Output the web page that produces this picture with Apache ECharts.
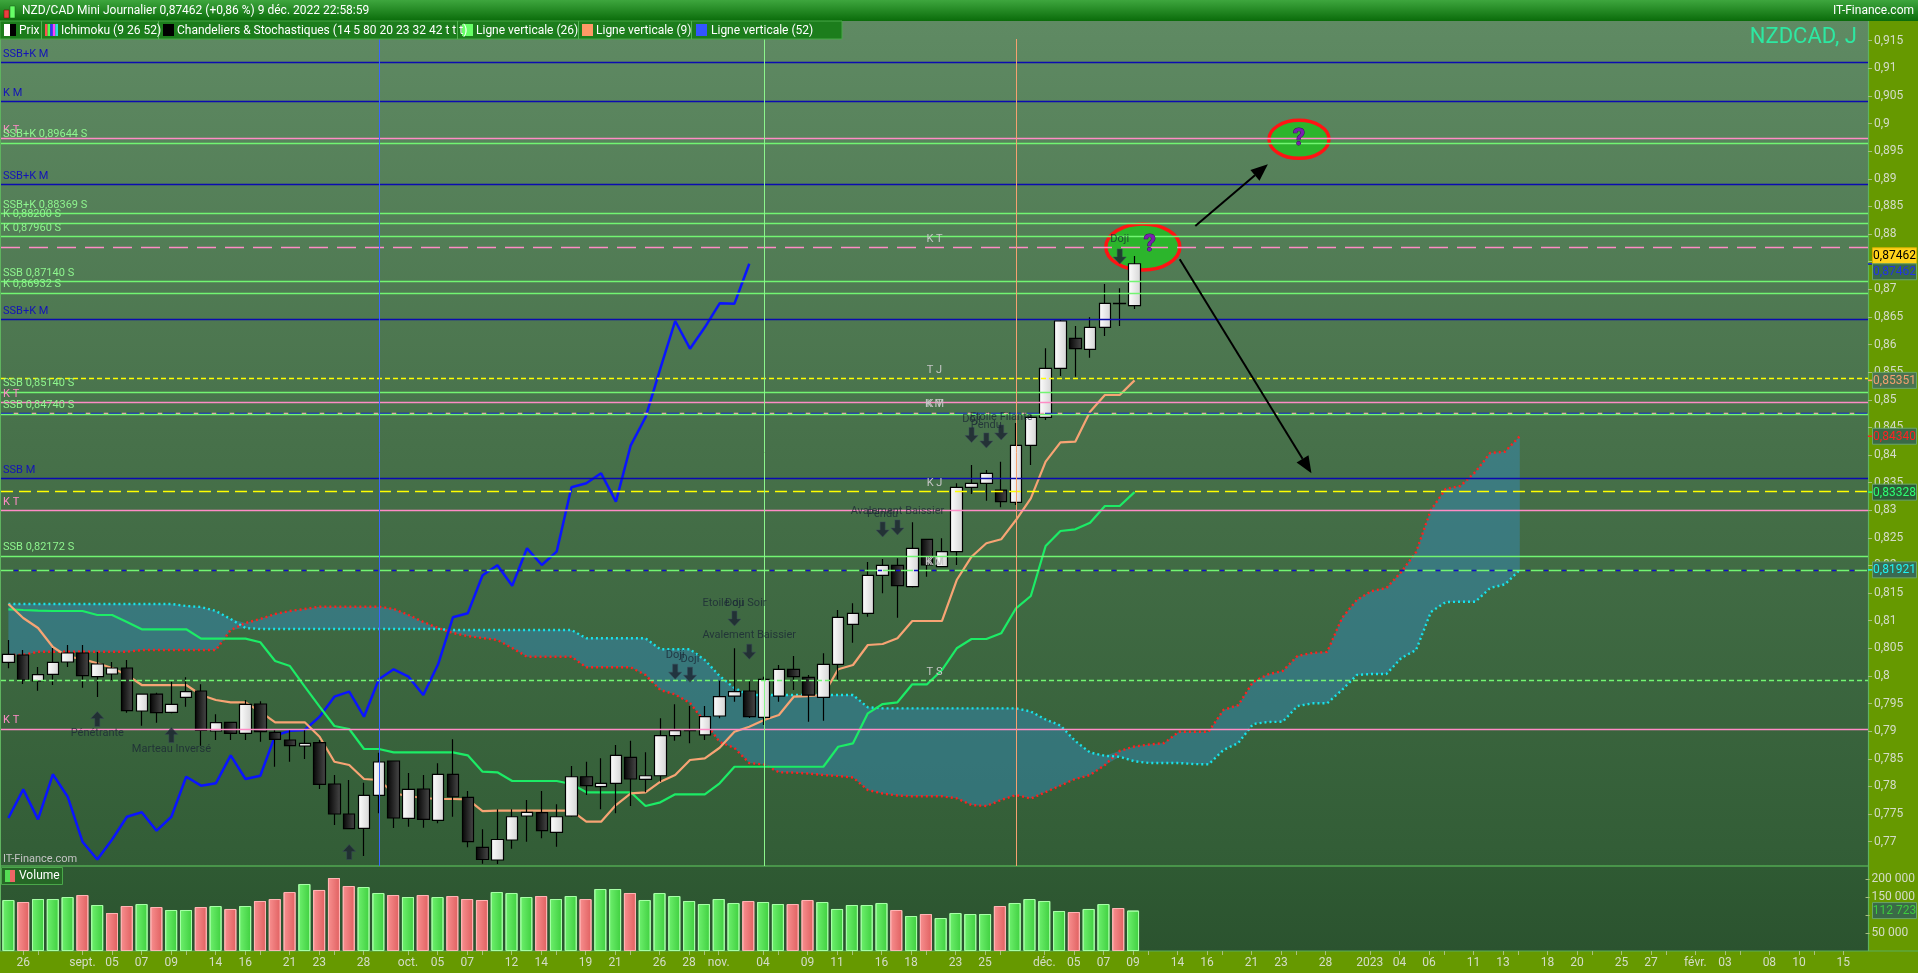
<!DOCTYPE html>
<html><head><meta charset="utf-8">
<script src="https://cdn.jsdelivr.net/npm/echarts@6/dist/echarts.min.js"></script>
<style>html,body{margin:0;padding:0;background:#669900;overflow:hidden}#c{width:1918px;height:973px}</style>
</head><body><div id="c"></div>
<script>
// ---------- DATA ----------
const openP = [.80247,.80380,.79909,.80030,.80253,.80416,.79987,.80036,.80144,.79366,
.79673,.79342,.79614,.79728,.79004,.79161,.78962,.79493,.78980,.78841,
.78732,.78792,.78044,.77501,.77242,.77840,.78461,.77423,.77954,.77387,
.78220,.77804,.76898,.76669,.77031,.77465,.77525,.77170,.77465,.78176,
.77996,.78057,.78528,.78129,.78194,.78919,.79009,.78932,.79275,.79637,
.79728,.79252,.79637,.80121,.79976,.79614,.80211,.80935,.81134,.81822,
.82003,.81616,.82474,.81978,.82250,.83415,.83488,.83366,.83144,.84176,
.84683,.85570,.86113,.85914,.86312,.86746,.86703];
const highP = [.80651,.80470,.80163,.80506,.80561,.80561,.80434,.80253,.80289,.79680,
.79697,.79897,.79976,.79849,.79306,.79170,.79565,.79541,.79022,.79022,
.79022,.78841,.78207,.78117,.78068,.78611,.78470,.78243,.78207,.78419,
.78853,.77918,.77224,.77586,.77586,.77755,.77918,.77677,.78370,.78448,
.78510,.78750,.78828,.78618,.79233,.79487,.79456,.79456,.79914,.80501,
.79927,.79987,.80199,.80361,.80018,.80410,.81194,.81315,.82063,.82117,
.82130,.82782,.82480,.82492,.83488,.83819,.83729,.83879,.84580,.84755,
.85932,.86444,.86335,.86493,.87096,.87018,.87603];
const lowP = [.80139,.79855,.79733,.79837,.80163,.79788,.79619,.79927,.79335,.79100,
.79154,.79324,.79444,.78738,.78841,.78841,.78841,.78810,.78358,.78448,
.78497,.77954,.77302,.77224,.76741,.77514,.77248,.77271,.77253,.77333,
.77452,.76898,.76600,.76596,.76873,.77000,.77061,.76909,.77452,.77845,
.77586,.77514,.77646,.77894,.78086,.78828,.78781,.78841,.79233,.79534,
.79239,.79112,.79534,.79746,.79172,.79190,.79927,.80602,.81073,.81496,
.81055,.81600,.81797,.81970,.82009,.83294,.83173,.83053,.83095,.83819,
.84634,.85430,.85418,.85762,.86154,.86335,.86643];
const closeP = [.80392,.79927,.80023,.80247,.80416,.80005,.80217,.80144,.79371,.79673,
.79335,.79487,.79716,.79016,.79154,.78962,.79487,.78991,.78853,.78738,
.78781,.78039,.77501,.77235,.77840,.78443,.77429,.77948,.77405,.78220,
.77814,.77000,.76678,.77040,.77452,.77532,.77199,.77452,.78176,.78014,
.78057,.78564,.78135,.78194,.78919,.79009,.79022,.79263,.79625,.79716,
.79263,.79940,.80121,.79987,.79655,.80211,.81062,.81134,.81822,.82003,
.81634,.82311,.82009,.82250,.83415,.83488,.83669,.83155,.84176,.84683,
.85570,.86426,.85925,.86312,.86746,.86740,.87462];
const volume = [142300,136700,145000,145000,150600,156200,128300,106000,125500,131100,
122700,114400,114400,122700,125500,117200,125500,139500,145000,164600,
186900,170200,203600,181300,178500,161800,156200,150600,156200,150600,
153400,145000,142300,164600,161800,150600,153400,145000,153400,145000,
172900,172900,161800,142300,161800,153400,139500,131100,145000,133900,
139500,136700,131100,131100,142300,136700,117200,128300,128300,133900,
114400,97600,103200,92000,106000,103200,103200,125500,133900,145000,
139500,111600,108800,117200,131100,119900,112723];
const tenkan = [.81303,.81049,.80868,.80524,.80349,.80307,.80229,.80144,.80017,.79836,
.79836,.79836,.79836,.79655,.79565,.79523,.79523,.79353,.79161,.79161,
.79161,.78900,.78448,.78388,.78135,.78117,.77876,.77827,.77791,.77773,
.77773,.77767,.77555,.77561,.77561,.77561,.77561,.77561,.77561,.77362,
.77362,.77664,.77876,.77894,.78086,.78207,.78479,.78509,.78701,.78991,
.79081,.79203,.79293,.79625,.79637,.79655,.80121,.80199,.80561,.80579,
.80682,.80995,.80995,.80995,.81737,.82159,.82402,.82474,.82823,.83216,
.83879,.84230,.84241,.84784,.85086,.85086,.85351];
const kijun = [.81207,.81194,.81182,.81176,.81176,.81176,.81104,.81104,.80977,.80845,
.80845,.80845,.80845,.80675,.80675,.80675,.80675,.80610,.80271,.80180,
.79806,.79444,.79094,.79040,.78678,.78678,.78618,.78618,.78618,.78618,
.78618,.78564,.78267,.78256,.78099,.78099,.78099,.78099,.78044,.77894,
.77894,.77894,.77894,.77646,.77713,.77858,.77858,.77858,.78057,.78357,
.78357,.78357,.78357,.78357,.78357,.78357,.78719,.78781,.79324,.79492,
.79523,.79849,.79849,.80108,.80501,.80669,.80669,.80772,.81225,.81448,
.82353,.82624,.82655,.82775,.83077,.83077,.83328];
const spanA = [.80380,.80380,.80439,.80439,.80439,.80439,.80439,.80439,.80439,.80470,
.80470,.80470,.80470,.80470,.80470,.80832,.80959,.81031,.81122,.81176,
.81212,.81254,.81254,.81254,.81254,.81254,.81212,.81104,.80977,.80868,
.80778,.80723,.80687,.80651,.80506,.80349,.80349,.80349,.80349,.80157,
.80157,.80157,.80157,.80017,.79746,.79665,.79511,.79167,.78805,.78696,
.78424,.78398,.78256,.78251,.78234,.78207,.78189,.78162,.77936,.77872,
.77836,.77822,.77822,.77822,.77785,.77664,.77646,.77755,.77845,.77782,
.77899,.78017,.78135,.78207,.78388,.78642,.78723,.78759,.78786,.78991,
.78991,.78991,.79384,.79474,.79891,.80027,.80090,.80362,.80416,.80434,
.81049,.81375,.81538,.81592,.81882,.82244,.83004,.83385,.83439,.83692,
.84036,.84060,.84340];
const spanB = [.81303,.81303,.81303,.81303,.81303,.81303,.81303,.81303,.81303,.81303,
.81303,.81303,.81267,.81249,.81176,.81031,.80868,.80850,.80850,.80850,
.80850,.80850,.80850,.80850,.80850,.80850,.80850,.80850,.80850,.80850,
.80832,.80832,.80832,.80832,.80832,.80832,.80832,.80832,.80832,.80682,
.80682,.80682,.80682,.80682,.80483,.80483,.80483,.80289,.79999,.79782,
.79655,.79655,.79655,.79655,.79655,.79655,.79655,.79655,.79433,.79414,
.79414,.79414,.79414,.79414,.79414,.79414,.79414,.79414,.79414,.79357,
.79212,.79103,.78823,.78614,.78555,.78537,.78455,.78424,.78424,.78424,
.78406,.78400,.78660,.78786,.79130,.79167,.79172,.79456,.79505,.79505,
.79746,.80018,.80036,.80036,.80325,.80470,.81158,.81339,.81344,.81344,
.81592,.81659,.81921];
const tickLabels = ['','26','','','','sept.','','05','','07','','09','','','14','','16','','','21',
'','23','','','28','','','oct.','','05','','07','','','12','','14','','','19',
'','21','','','26','','28','','nov.','','','04','','','09','','11','','','16',
'','18','','','23','','25','','','','déc.','','05','','07','','09','','','14',
'','16','','','21','','23','','','28','','','2023','','04','','06','','','11',
'','13','','','18','','20','','','25','','27','','','févr.','','03','','','08',
'','10','','','15',''];
const priceTicks = [0.77,0.775,0.78,0.785,0.79,0.795,0.8,0.805,0.81,0.815,0.82,0.825,0.83,0.835,0.84,0.845,0.85,0.855,0.86,0.865,0.87,0.875,0.88,0.885,0.89,0.895,0.9,0.905,0.91,0.915];
const volumeTicks = [50000,100000,150000,200000];
const levelValues = [0.91109,0.90403,0.89733,0.89644,0.88901,0.88369,0.88200,0.87960,0.87760,0.87140,0.86932,0.86457,0.85389,0.85140,0.84954,0.84764,0.84764,0.84740,0.83578,0.83343,0.82999,0.82172,0.81913,0.81913,0.79922,0.79040];
const levelKinds = ['M','M','T','S','M','S','S','S','Tdash','S','S','M','Jshort','S','T','Mdash','Tdot','S','M','Jlong','T','S','Sdash','Mdot','Sshort','T'];
const levelLabels = ['SSB+K M','K M','K T','SSB+K 0,89644 S','SSB+K M','SSB+K 0,88369 S','K 0,88200 S','K 0,87960 S','K T','SSB 0,87140 S','K 0,86932 S','SSB+K M','T J','SSB 0,85140 S','K T','K M','K T','SSB 0,84740 S','SSB M','K J','K T','SSB 0,82172 S','K J','K M','T S','K T'];
const verticalIdx = [25, 51, 68];
const verticalKinds = ['v52','v26','v9'];
const signalArrows = [[6,.79221,'up'],[11,.78932,'up'],[23,.76814,'up'],[45,.80078,'down'],[46,.80023,'down'],[49,.81040,'down'],[50,.80439,'down'],[59,.82652,'down'],[60,.82688,'down'],[65,.84362,'down'],[66,.84263,'down'],[67,.84408,'down'],[75,.87594,'down']];
const signalTexts = [[6,.78967,'Pénétrante'],[11,.78678,'Marteau Inversé'],[45,.80367,'Doji'],[46,.80307,'Doji'],[49,.81316,'Etoile du Soir'],[49,.81316,'Doji'],[50,.80729,'Avalement Baissier'],[59,.82932,'Pendu'],[60,.82974,'Avalement Baissier'],[65,.84647,'Doji'],[66,.84543,'Pendu'],[67,.84676,'Etoile Filante'],[75,.87905,'Doji']];
const ellipseAnchors = [[76.56,.87766],[87.1,.89715]];
const questionAnchors = [[77.03,.87802],[87.1,.89715]];
const drawnArrows = [[80.1,.88146,85.0,.89263],[79.05,.87543,87.94,.83669]];
const tagValues = [0.87462,0.87462,0.85351,0.84340,0.83328,0.81921];
const volumeTag = 112723;

// ---------- BUILD ----------
const N = 126;
const dates = [];
{ let t = Date.UTC(2022,7,25); while (dates.length < N) { const d = new Date(t); const wd = d.getUTCDay(); if (wd>0 && wd<6) dates.push(d.toISOString().slice(0,10)); t += 86400000; } }
const isMonday = i => new Date(dates[i]+'T00:00:00Z').getUTCDay() === 1;
const F = 'Roboto, "Noto Sans", sans-serif';
const fmtPrice = v => String(Math.round(v*1000)/1000).replace('.', ',');
const fmtVol = v => String(v).replace(/\B(?=(\d{3})+(?!\d))/g, ' ');

const candles = openP.map((o,i)=>[o, closeP[i], lowP[i], highP[i]]);
const chikou = closeP.slice(26);
const cloudBase = spanA.map((a,i)=>Math.min(a, spanB[i]));
const cloudBand = spanA.map((a,i)=>Math.abs(a - spanB[i]));
const gUp = new echarts.graphic.LinearGradient(0,0,1,0,[{offset:0,color:'#6ef06e'},{offset:1,color:'#3fcf3f'}]);
const gDn = new echarts.graphic.LinearGradient(0,0,1,0,[{offset:0,color:'#f89090'},{offset:1,color:'#e06060'}]);
const volData = volume.map((v,i)=>{
  const up = i===0 || closeP[i] >= closeP[i-1];
  return {value:v, itemStyle:{color: up?gUp:gDn, borderColor: up?'#a6ffa6':'#ffb4b4', borderWidth:1}};
});

const LS = {
  M:{color:'#0b0bb0', type:'solid'}, T:{color:'#ff8cc6', type:'solid'}, S:{color:'#72f572', type:'solid'},
  Tdash:{color:'#ff8cc6', type:[19,9]}, Jshort:{color:'#ffff00', type:[5,3]}, Mdash:{color:'#1010c8', type:[12,6]},
  Tdot:{color:'#ff8cc6', type:[4,14], dashOffset:5}, Jlong:{color:'#ffff00', type:[12,6]}, Sdash:{color:'#72f572', type:[12,6]},
  Mdot:{color:'#1010c8', type:[4,14], dashOffset:5}, Sshort:{color:'#72f572', type:[5,3]}
};
const LC = {M:'#1414b8', T:'#ff8cc6', S:'#8ef58e'};
const middleKinds = ['Tdash','Jshort','Mdash','Tdot','Jlong','Sdash','Mdot','Sshort'];
const levelData = levelValues.map((v,i)=>{
  const k = levelKinds[i];
  const mid = middleKinds.indexOf(k) >= 0;
  return {yAxis:v, lineStyle:Object.assign({width:1.4, opacity:1}, LS[k]),
    label:{show:true, formatter:levelLabels[i], position: mid?'insideMiddleTop':'insideStartTop',
      distance: mid?[0,3]:[2,3], color: mid?'#c6c6c6':LC[k], fontSize:11, fontFamily:F}};
});
const VC = {v52:'#3a66ff', v26:'#8cf58c', v9:'#f5a070'};
const vertData = verticalIdx.map((ix,i)=>({xAxis:dates[ix], lineStyle:{color:VC[verticalKinds[i]], width:1, type:'solid'}, label:{show:false}}));

const arrowPath = 'path://M4,0 L9,0 L9,8 L13,8 L6.5,15 L0,8 L4,8 Z';

const option = {
  animation:false,
  backgroundColor:'#669900',
  textStyle:{fontFamily:F},
  grid:[{left:1, top:39, width:1867, height:827}, {left:1, top:866, width:1867, height:85}],
  xAxis:[
    {gridIndex:0, type:'category', data:dates, boundaryGap:true, axisLine:{show:false}, axisTick:{show:false}, axisLabel:{show:false}, splitLine:{show:false}},
    {gridIndex:1, type:'category', data:dates, boundaryGap:true, axisLine:{show:false},
      axisTick:{show:true, alignWithLabel:true, interval:(i)=> tickLabels[i] !== '' || isMonday(i), length:4, lineStyle:{color:'#a8c080'}},
      axisLabel:{interval:0, formatter:(v,i)=>tickLabels[i], color:'#d4dcc8', fontSize:12, fontFamily:F, margin:6}, splitLine:{show:false}}
  ],
  yAxis:[
    {gridIndex:0, type:'value', position:'right', min:0.7656, max:0.91531, splitLine:{show:false},
      axisLine:{show:false},
      axisTick:{show:true, customValues:priceTicks, length:4, lineStyle:{color:'#a8c080'}},
      axisLabel:{customValues:priceTicks, formatter:fmtPrice, color:'#d4dcc8', fontSize:12, fontFamily:F, margin:6}},
    {gridIndex:1, type:'value', position:'right', min:0, max:237100, splitLine:{show:false},
      axisLine:{show:false},
      axisTick:{show:true, customValues:volumeTicks, length:4, lineStyle:{color:'#a8c080'}},
      axisLabel:{customValues:volumeTicks, formatter:fmtVol, color:'#d4dcc8', fontSize:12, fontFamily:F, margin:6}}
  ],
  series:[
    {type:'line', name:'cloudBase', data:cloudBase, stack:'cloud', symbol:'none', lineStyle:{width:0}, silent:true, z:1},
    {type:'line', name:'cloudBand', data:cloudBand, stack:'cloud', symbol:'none', lineStyle:{width:0}, areaStyle:{color:'rgba(52,138,190,0.47)', opacity:1}, silent:true, z:1},
    {type:'line', name:'levels', data:[], z:2, markLine:{silent:true, precision:5, symbol:['none','none'], animation:false, data:levelData}},
    {type:'line', name:'verticals', data:[], z:2, markLine:{silent:true, symbol:['none','none'], animation:false, data:vertData}},
    {type:'line', name:'SSA', data:spanA, symbol:'none', lineStyle:{color:'#ff1f1f', width:2.4, type:[2,3]}, z:3},
    {type:'line', name:'SSB', data:spanB, symbol:'none', lineStyle:{color:'#18e3ea', width:2.4, type:[2,3]}, z:3},
    {type:'line', name:'Chikou', data:chikou, symbol:'none', lineStyle:{color:'#0a14ff', width:2.5}, z:3},
    {type:'line', name:'Kijun', data:kijun, symbol:'none', lineStyle:{color:'#1cec66', width:2.2}, z:3},
    {type:'line', name:'Tenkan', data:tenkan, symbol:'none', lineStyle:{color:'#f7a474', width:2.2}, z:3},
    {type:'candlestick', name:'Prix', data:candles, barWidth:12, z:4,
      itemStyle:{
        color:new echarts.graphic.LinearGradient(0,0,1,0,[{offset:0,color:'#ffffff'},{offset:1,color:'#d4d4d4'}]),
        color0:new echarts.graphic.LinearGradient(0,0,1,0,[{offset:0,color:'#050505'},{offset:1,color:'#4a4a4a'}]),
        borderColor:'#000', borderColor0:'#000', borderWidth:1.2}},
    {type:'scatter', name:'signals', z:5, silent:true, symbol:arrowPath, symbolSize:[13,15],
      itemStyle:{color:'#1b2331', borderColor:'#3a4a5a', borderWidth:0.6},
      data:signalArrows.map(a=>({value:[a[0],a[1]], symbolRotate: a[2]==='up'?180:0}))},
    {type:'scatter', name:'signalText', z:5, silent:true, symbol:'circle', symbolSize:1, itemStyle:{color:'rgba(0,0,0,0)'},
      label:{show:true, position:'inside', formatter:p=>p.data[2], color:'#1c2836', fontSize:11, fontFamily:F},
      data:signalTexts},
    {type:'bar', name:'Volume', xAxisIndex:1, yAxisIndex:1, data:volData, barWidth:12, z:3}
  ]
};

const chart = echarts.init(document.getElementById('c'), null, {width:1918, height:973});
chart.setOption(option);

// ---------- ANNOTATIONS / FRAME ----------
function px(f, v){
  const i0 = Math.floor(f);
  const a = chart.convertToPixel({xAxisIndex:0, yAxisIndex:0}, [i0, v]);
  const b = chart.convertToPixel({xAxisIndex:0, yAxisIndex:0}, [i0+1, v]);
  return [a[0] + (f-i0)*(b[0]-a[0]), a[1]];
}
const yP = v => chart.convertToPixel({yAxisIndex:0}, v);
const yV = v => chart.convertToPixel({yAxisIndex:1}, v);
const G = [];
// backgrounds
G.push({type:'rect', z:-10, shape:{x:0,y:21,width:1868,height:845}, style:{fill:new echarts.graphic.LinearGradient(0,0,0,1,[{offset:0,color:'#5f8a63'},{offset:0.5,color:'#47714a'},{offset:1,color:'#325d36'}])}, silent:true});
G.push({type:'rect', z:-10, shape:{x:0,y:866,width:1868,height:85}, style:{fill:new echarts.graphic.LinearGradient(0,0,0,1,[{offset:0,color:'#2f5a33'},{offset:1,color:'#2b532f'}])}, silent:true});
G.push({type:'rect', z:-9, shape:{x:0,y:0,width:1918,height:21}, style:{fill:new echarts.graphic.LinearGradient(0,0,0,1,[{offset:0,color:'#3ea63e'},{offset:1,color:'#0a6c0a'}])}, silent:true});
G.push({type:'line', z:-8, shape:{x1:0,y1:866,x2:1868,y2:866}, style:{stroke:'#52a852', lineWidth:1.5}, silent:true});
G.push({type:'line', z:-8, shape:{x1:0,y1:951,x2:1918,y2:951}, style:{stroke:'#5aae5a', lineWidth:1}, silent:true});
G.push({type:'line', z:-8, shape:{x1:1868.5,y1:21,x2:1868.5,y2:951}, style:{stroke:'#5fb35f', lineWidth:1.2}, silent:true});
G.push({type:'line', z:-8, shape:{x1:0.5,y1:21,x2:0.5,y2:951}, style:{stroke:'#5fb35f', lineWidth:1}, silent:true});
// title bar
G.push({type:'rect', z:20, shape:{x:4,y:10,width:5,height:8}, style:{fill:'#e84040', stroke:'#7a0000', lineWidth:0.5}, silent:true});
G.push({type:'rect', z:20, shape:{x:10,y:6,width:5,height:12}, style:{fill:'#66ff66', stroke:'#1a5a1a', lineWidth:0.5}, silent:true});
G.push({type:'text', z:20, style:{text:'NZD/CAD Mini Journalier 0,87462 (+0,86 %) 9 déc. 2022 22:58:59', x:22, y:11, fill:'#ffffff', font:'12px '+F, textVerticalAlign:'middle'}, silent:true});
G.push({type:'text', z:20, style:{text:'IT-Finance.com', x:1914, y:11, fill:'#ffffff', font:'12px '+F, textAlign:'right', textVerticalAlign:'middle'}, silent:true});
// legend row
G.push({type:'rect', z:20, shape:{x:0,y:21,width:842,height:18}, style:{fill:'#1c7d1c', stroke:'#48a848', lineWidth:1}, silent:true});
[41,158,457,578,691].forEach(x=>G.push({type:'line', z:21, shape:{x1:x+0.5,y1:21,x2:x+0.5,y2:39}, style:{stroke:'#52b452', lineWidth:1}, silent:true}));
G.push({type:'rect', z:21, shape:{x:4,y:24,width:6,height:12}, style:{fill:'#ffffff'}, silent:true});
G.push({type:'rect', z:21, shape:{x:10,y:24,width:6,height:12}, style:{fill:'#000000'}, silent:true});
['#ff5050','#50ff50','#3030ff','#ff40ff','#30e0e0'].forEach((c,k)=>G.push({type:'rect', z:21, shape:{x:45+k*2.6,y:24,width:2.6,height:12}, style:{fill:c}, silent:true}));
G.push({type:'rect', z:21, shape:{x:163,y:24,width:11,height:12}, style:{fill:'#000000'}, silent:true});
G.push({type:'rect', z:21, shape:{x:462,y:24,width:11,height:12}, style:{fill:'#66ff66'}, silent:true});
G.push({type:'rect', z:21, shape:{x:582,y:24,width:11,height:12}, style:{fill:'#ff9966'}, silent:true});
G.push({type:'rect', z:21, shape:{x:696,y:24,width:11,height:12}, style:{fill:'#3355ff'}, silent:true});
[[19,'Prix'],[61,'Ichimoku (9 26 52)'],[177,'Chandeliers & Stochastiques (14 5 80 20 23 32 42 t t t)'],[476,'Ligne verticale (26)'],[596,'Ligne verticale (9)'],[711,'Ligne verticale (52)']]
  .forEach(t=>G.push({type:'text', z:21, style:{text:t[1], x:t[0], y:30.5, fill:'#ffffff', font:'12px '+F, textVerticalAlign:'middle'}, silent:true}));
// chart name & watermark
G.push({type:'text', z:5, style:{text:'NZDCAD, J', x:1857, y:37, fill:'#2de8a2', font:'22px '+F, textAlign:'right', textVerticalAlign:'middle'}, silent:true});
G.push({type:'text', z:5, style:{text:'IT-Finance.com', x:3, y:859, fill:'#c4c4c4', font:'11px '+F, textVerticalAlign:'middle'}, silent:true});
// volume box
G.push({type:'rect', z:6, shape:{x:1.5,y:867.5,width:61,height:17}, style:{fill:'#266626', stroke:'#4aa84a', lineWidth:1}, silent:true});
G.push({type:'rect', z:7, shape:{x:5,y:870,width:5,height:12}, style:{fill:'#55dd55'}, silent:true});
G.push({type:'rect', z:7, shape:{x:10,y:870,width:5,height:12}, style:{fill:'#ee6666'}, silent:true});
G.push({type:'text', z:7, style:{text:'Volume', x:19, y:876, fill:'#ffffff', font:'12px '+F, textVerticalAlign:'middle'}, silent:true});
// drawn ellipses
const ER = [[37,23],[30,19]];
ellipseAnchors.forEach((e,k)=>{
  const p = px(e[0], e[1]);
  G.push({type:'ellipse', z:1.5, shape:{cx:p[0], cy:p[1], rx:ER[k][0], ry:ER[k][1]}, style:{fill:'#2cb52c', stroke:'#ff1414', lineWidth:3.5}, silent:true});
});
questionAnchors.forEach(q=>{
  const p = px(q[0], q[1]);
  G.push({type:'text', z:6, style:{text:'?', x:p[0], y:p[1], fill:'#7a1fb0', stroke:'#3a0860', lineWidth:1, font:'bold 24px '+F, textAlign:'center', textVerticalAlign:'middle'}, silent:true});
});
drawnArrows.forEach(a=>{
  const p1 = px(a[0], a[1]), p2 = px(a[2], a[3]);
  const dx = p2[0]-p1[0], dy = p2[1]-p1[1], L = Math.hypot(dx,dy), ux = dx/L, uy = dy/L;
  const hl = 17, hw = 7;
  const bx = p2[0]-ux*hl, by = p2[1]-uy*hl;
  G.push({type:'line', z:6, shape:{x1:p1[0], y1:p1[1], x2:bx, y2:by}, style:{stroke:'#000', lineWidth:2}, silent:true});
  G.push({type:'polygon', z:6, shape:{points:[[p2[0],p2[1]],[bx-uy*hw, by+ux*hw],[bx+uy*hw, by-ux*hw]]}, style:{fill:'#000'}, silent:true});
});
// price tags
const tagLook = [
  {bg:'#ffd21a', fg:'#000000', st:'#d8b000', dy:-8},
  {bg:'#3a6a47', fg:'#2233e6', st:'#6aa46a', dy:8},
  {bg:'#4a7350', fg:'#f4a070', st:'#6aa46a', dy:0},
  {bg:'#3a6a47', fg:'#ff2222', st:'#6aa46a', dy:0},
  {bg:'#2c5c38', fg:'#2cff72', st:'#6aa46a', dy:0},
  {bg:'#3a6a52', fg:'#20f2f2', st:'#6aa46a', dy:0}
];
function tag(y, txt, look){
  G.push({type:'rect', z:30, shape:{x:1872.5, y:y-8, width:44, height:16}, style:{fill:look.bg, stroke:look.st, lineWidth:1}, silent:true});
  G.push({type:'text', z:31, style:{text:txt, x:1894.5, y:y+0.5, fill:look.fg, font:'12px '+F, textAlign:'center', textVerticalAlign:'middle'}, silent:true});
}
tagValues.forEach((v,k)=>{
  const y = yP(v);
  G.push({type:'line', z:30, shape:{x1:1868, y1:y, x2:1872, y2:y}, style:{stroke:tagLook[k].fg, lineWidth:1.5}, silent:true});
  tag(y + tagLook[k].dy, v.toFixed(5).replace('.',','), tagLook[k]);
});
{ const y = yV(volumeTag); tag(y, fmtVol(volumeTag), {bg:'#3a6a47', fg:'#3ecb3e', st:'#6aa46a'}); }

chart.setOption({graphic:{elements:G}});
</script>
</body></html>
